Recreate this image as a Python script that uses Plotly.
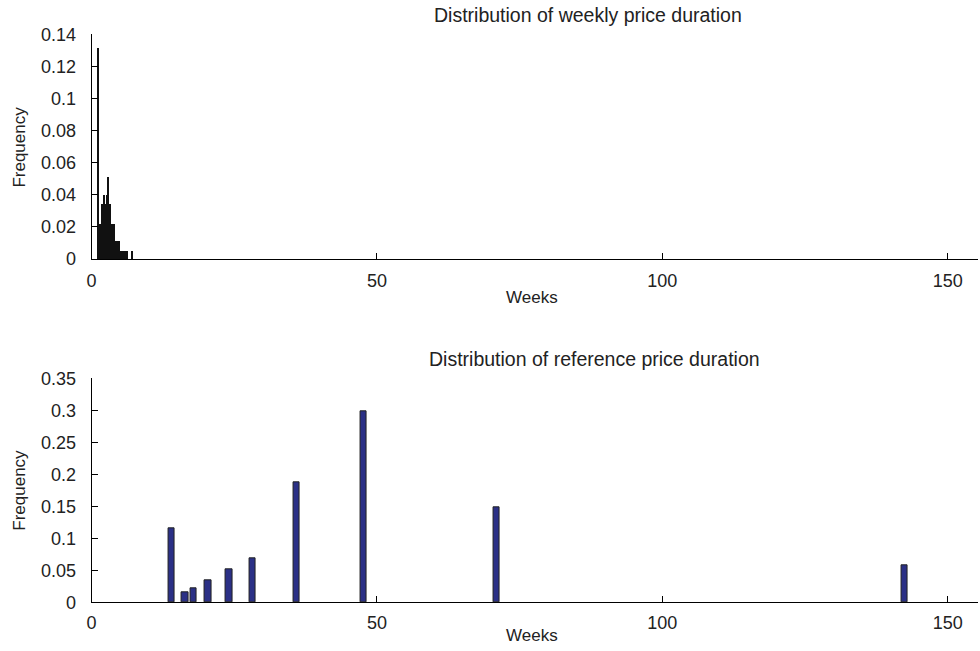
import plotly.graph_objects as go

# Top histogram: weekly price duration
weekly_weeks = [1.10, 1.30, 1.45, 1.60, 1.75, 1.90, 2.05, 2.20, 2.35, 2.50, 2.65, 2.80,
                2.95, 3.10, 3.25, 3.40, 3.55, 3.70, 3.85, 4.05, 4.25, 4.50, 4.70,
                4.95, 5.15, 5.40, 5.65, 5.90, 6.10, 7.05]
weekly_freq = [0.131, 0.012, 0.022, 0.022, 0.034, 0.034, 0.040, 0.040, 0.034, 0.034, 0.040, 0.051,
               0.034, 0.034, 0.030, 0.022, 0.022, 0.022, 0.022, 0.011, 0.011, 0.011, 0.011,
               0.005, 0.005, 0.005, 0.005, 0.005, 0.005, 0.005]

# Bottom histogram: reference price duration
ref_weeks = [14.0, 16.4, 17.9, 20.4, 24.1, 28.2, 35.9, 47.6, 70.9, 142.4]
ref_freq = [0.115, 0.016, 0.022, 0.034, 0.051, 0.068, 0.188, 0.298, 0.149, 0.057]

x_ticks = [0, 50, 100, 150]
top_y_ticks = [0, 0.02, 0.04, 0.06, 0.08, 0.1, 0.12, 0.14]
bot_y_ticks = [0, 0.05, 0.1, 0.15, 0.2, 0.25, 0.3, 0.35]

W, H = 980, 651
FONT = "Liberation Sans, Arial, sans-serif"

fig = go.Figure()
fig.add_trace(go.Bar(x=weekly_weeks, y=weekly_freq, width=0.11,
                     marker=dict(color="#111111", line=dict(width=0)),
                     xaxis="x", yaxis="y", showlegend=False))
fig.add_trace(go.Bar(x=ref_weeks, y=ref_freq, width=1.1,
                     marker=dict(color="#2b3086", line=dict(color="#222222", width=1)),
                     xaxis="x2", yaxis="y2", showlegend=False))

xdom = [87 / W, 978 / W]
axis_common = dict(showgrid=False, zeroline=False, showline=True, linecolor="black",
                   linewidth=1, ticks="inside", ticklen=6, tickcolor="black",
                   tickfont=dict(size=18, color="#222222", family=FONT))

fig.update_layout(
    width=W, height=H,
    margin=dict(l=0, r=0, t=0, b=0),
    paper_bgcolor="white", plot_bgcolor="white",
    font=dict(family=FONT, color="#222222"),
    bargap=0,
    xaxis=dict(domain=xdom, range=[0, 155.3], tickvals=x_ticks, anchor="y",
               ticklabelstandoff=5, **axis_common),
    yaxis=dict(domain=[1 - 257 / H, 1 - 25 / H], range=[0, 0.14], tickvals=top_y_ticks,
               anchor="x", ticklabelstandoff=11, **axis_common),
    xaxis2=dict(domain=xdom, range=[0, 155.3], tickvals=x_ticks, anchor="y2",
                ticklabelstandoff=4, **axis_common),
    yaxis2=dict(domain=[1 - 611 / H, 1 - 380 / H], range=[0, 0.35], tickvals=bot_y_ticks,
                anchor="x2", ticklabelstandoff=11, **axis_common),
    annotations=[
        dict(text="Distribution of weekly price duration", x=586 / W, y=1 - 5 / H,
             xref="paper", yref="paper", showarrow=False, xanchor="center", yanchor="middle",
             font=dict(size=19.5)),
        dict(text="Distribution of reference price duration", x=593 / W, y=1 - 360 / H,
             xref="paper", yref="paper", showarrow=False, xanchor="center", yanchor="middle",
             font=dict(size=19.5)),
        dict(text="Weeks", x=530 / W, y=1 - 297 / H, xref="paper", yref="paper",
             showarrow=False, xanchor="center", yanchor="middle", font=dict(size=17)),
        dict(text="Weeks", x=530 / W, y=1 - 645 / H, xref="paper", yref="paper",
             showarrow=False, xanchor="center", yanchor="middle", font=dict(size=17)),
        dict(text="Frequency", x=15 / W, y=1 - 141 / H, xref="paper", yref="paper",
             showarrow=False, xanchor="center", yanchor="middle", textangle=-90,
             font=dict(size=17)),
        dict(text="Frequency", x=15 / W, y=1 - 495 / H, xref="paper", yref="paper",
             showarrow=False, xanchor="center", yanchor="middle", textangle=-90,
             font=dict(size=17)),
    ],
)

fig.write_html("out.html")
